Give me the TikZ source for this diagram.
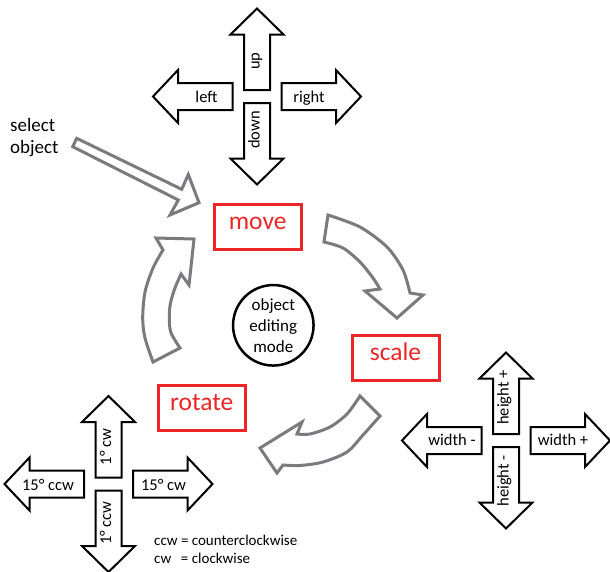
\documentclass[tikz,border=0pt]{standalone}
\usepackage{fontspec}
\setmainfont{Carlito}
\definecolor{boxred}{RGB}{235,38,38}
\definecolor{arrgray}{RGB}{122,122,127}
\tikzset{
  blockarr/.style={draw=black, line width=2pt, fill=white, line join=miter},
  curvarr/.style={draw=arrgray, line width=3pt, fill=white, line join=miter},
  modebox/.style={draw=boxred, line width=3pt, text=boxred, font=\fontsize{25.5}{30}\selectfont,
     minimum width=87pt, minimum height=45pt, inner sep=0pt, text height=0.47em, text depth=0pt},
  lab/.style={inner sep=0pt, font=\fontsize{16.5}{20}\selectfont, text height=0.75em, text depth=0.25em},
  vlab/.style={lab, rotate=90},
  pics/crossarrows/.style={code={
    \draw[blockarr] (-13,-6.5) -- (-13,-62) -- (-26.5,-62) -- (0,-88) -- (26.5,-62) -- (13,-62) -- (13,-6.5) -- cycle;
    \draw[blockarr] (-13,6.5) -- (-13,62) -- (-26.5,62) -- (0,88) -- (26.5,62) -- (13,62) -- (13,6.5) -- cycle;
    \draw[blockarr] (-24.5,-13.5) -- (-79,-13.5) -- (-79,-26.5) -- (-104,0) -- (-79,26.5) -- (-79,13.5) -- (-24.5,13.5) -- cycle;
    \draw[blockarr] (24.5,-13.5) -- (79,-13.5) -- (79,-26.5) -- (104,0) -- (79,26.5) -- (79,13.5) -- (24.5,13.5) -- cycle;
  }}
}
\begin{document}
\begin{tikzpicture}[x=1pt,y=-1pt]
\useasboundingbox (0,0) rectangle (610,571);

% crosses
\pic (tc) at (257,96.5) {crossarrows};
\pic (lc) at (108.5,484) {crossarrows};
\pic (rc) at (506,440.5) {crossarrows};

% top cross labels
\node[lab] (tleft) at (206.5,100) {left};
\node[lab] (tright) at (309,100) {right};
\node[vlab] (tup) at (257,61) {up};
\node[vlab] (tdown) at (257,130) {down};

% lower-left cross labels
\node[lab] (l15ccw) at (48,487.5) {15° ccw};
\node[lab] (l15cw) at (163.5,487.5) {15° cw};
\node[vlab] (l1cw) at (108.5,447) {1° cw};
\node[vlab] (l1ccw) at (108.5,523) {1° ccw};

% right cross labels
\node[lab] (rwm) at (452,442.5) {width -};
\node[lab] (rwp) at (563,442.5) {width +};
\node[vlab] (rhp) at (506,397.5) {height +};
\node[vlab] (rhm) at (506,481) {height -};

% mode boxes
\node[modebox] (move) at (257.7,227) {move};
\node[modebox] (scale) at (395.5,358.3) {scale};
\node[modebox] (rotate) at (201.7,408.3) {rotate};

% centre circle
\node[circle, draw=black, line width=2.5pt, minimum size=80.5pt, inner sep=0pt, align=center,
      font=\fontsize{17}{21}\selectfont] (mode) at (273.3,325.3) {object\\editing\\mode};

% select object
\node[anchor=base west, inner sep=0pt, font=\fontsize{19}{22.7}\selectfont] (sel1) at (10,131) {select};
\node[anchor=base west, inner sep=0pt, font=\fontsize{19}{22.7}\selectfont] (sel2) at (10,153.7) {object};

% select arrow
\draw[curvarr] (76.7,138.3) -- (181.7,189.3) -- (188.3,174.5) -- (199,202.7) -- (170,215) -- (178.3,200) -- (72.7,146.7) -- cycle;

% move -> scale
\draw[curvarr] plot[smooth] coordinates {(328,215) (360,227) (387,247) (403,270) (410,293)}
  -- (423,295) -- (397,318) -- (365,291) -- (380,289)
  -- plot[smooth] coordinates {(380,289) (373,278) (360,262) (343,248) (324,242)} -- cycle;

% scale -> rotate
\draw[curvarr] plot[smooth] coordinates {(360,396) (347,414) (330,427) (310,434) (297,434)}
  -- (302,422) -- (260,448) -- (277,473) -- (283,465)
  -- plot[smooth] coordinates {(283,465) (300,465.5) (323,462) (347,452) (363,435) (380,416)} -- cycle;

% rotate -> move
\draw[curvarr] plot[smooth] coordinates {(153,362) (145,338) (142.7,318) (145,292) (153,268) (163,250)}
  -- (156,238) -- (194,239) -- (189,285) -- (181,274)
  -- plot[smooth] coordinates {(181,274) (175,288) (170.7,302) (169.3,315) (170.7,332) (180,348)} -- cycle;

% legend
\node[anchor=west, inner sep=0pt, font=\fontsize{15}{17.7}\selectfont] (legend) at (154,551)
  {\begin{tabular}{@{}l@{ }l@{}}ccw & = counterclockwise\\ cw & = clockwise\end{tabular}};
\end{tikzpicture}
\end{document}
